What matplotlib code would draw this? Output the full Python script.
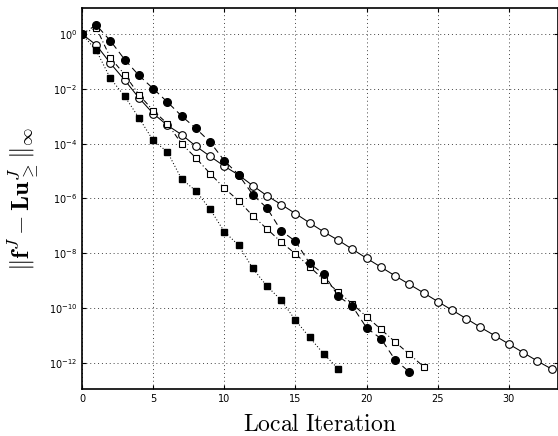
import numpy as np
import matplotlib
matplotlib.use("Agg")
import matplotlib.pyplot as plt
from matplotlib.ticker import FixedLocator, FuncFormatter

# log10 of the residual
it_a = np.arange(0, 34)
log_a = [0.0, -0.4, -1.07, -1.68, -2.33, -2.9, -3.33, -3.67, -4.09, -4.46,
         -4.82, -5.14, -5.53, -5.9, -6.22, -6.55, -6.89, -7.22, -7.52, -7.85,
         -8.18, -8.5, -8.82, -9.13, -9.44, -9.76, -10.07, -10.38, -10.7, -11.0,
         -11.31, -11.62, -11.93, -12.22]

it_b = np.arange(0, 24)
log_b = [0.0, 0.33, -0.25, -0.93, -1.51, -1.99, -2.48, -2.99, -3.44, -3.94,
         -4.62, -5.13, -5.86, -6.35, -7.18, -7.56, -8.37, -8.76, -9.56, -9.93,
         -10.72, -11.11, -11.88, -12.33]

it_c = np.arange(0, 25)
log_c = [0.0, 0.23, -0.87, -1.48, -2.21, -2.79, -3.27, -4.0, -4.52, -5.09,
         -5.62, -6.08, -6.63, -7.11, -7.59, -8.02, -8.49, -8.97, -9.4, -9.85,
         -10.31, -10.77, -11.23, -11.68, -12.13]

it_d = np.arange(0, 19)
log_d = [0.0, -0.6, -1.62, -2.27, -3.06, -3.88, -4.3, -5.29, -5.72, -6.39,
         -7.21, -7.7, -8.55, -9.2, -9.71, -10.44, -11.07, -11.68, -12.21]

xticks = [0, 5, 10, 15, 20, 25, 30]
yticks = [1e0, 1e-2, 1e-4, 1e-6, 1e-8, 1e-10, 1e-12]

fig = plt.figure(figsize=(5.58, 4.36), dpi=100)
ax = fig.add_axes([82 / 558, 1 - 389 / 436, 476 / 558, 381 / 436])

ax.semilogy(it_a, 10.0 ** np.array(log_a), '-', color='k', lw=0.75,
            marker='o', ms=5.5, mfc='white', mec='k', mew=0.8, zorder=3)
ax.semilogy(it_c, 10.0 ** np.array(log_c), color='k', lw=0.75, dashes=(5, 2.5, 1, 2.5),
            marker='s', ms=4.6, mfc='white', mec='k', mew=0.8, zorder=4)
ax.semilogy(it_b, 10.0 ** np.array(log_b), color='k', lw=0.75, dashes=(6, 4),
            marker='o', ms=5.5, mfc='k', mec='k', zorder=5)
ax.semilogy(it_d, 10.0 ** np.array(log_d), color='k', lw=0.75, dashes=(1, 2),
            marker='s', ms=4.6, mfc='k', mec='k', zorder=4)

ax.set_xlim(0, 33.45)
ax.set_ylim(10 ** -12.95, 10 ** 0.95)
ax.xaxis.set_major_locator(FixedLocator(xticks))
ax.yaxis.set_major_locator(FixedLocator(yticks))
ax.yaxis.set_minor_locator(FixedLocator([]))
ax.yaxis.set_major_formatter(FuncFormatter(lambda v, p: r'$10^{%d}$' % round(np.log10(v))))

ax.grid(True, which='major', ls=(0, (1, 3)), color='#444444', lw=0.7)
ax.tick_params(direction='in', labelsize=7, top=True, right=True, length=3)
for s in ax.spines.values():
    s.set_linewidth(1.2)

ax.set_xlabel(r'$\mathrm{Local\ Iteration}$', fontsize=17, math_fontfamily='cm', labelpad=6)
ax.set_ylabel(r'$\|\mathbf{f}^J - \mathbf{Lu}^J_{\geq}\|_\infty$', fontsize=18,
              math_fontfamily='cm', labelpad=5)

fig.savefig('out.png', dpi=100)
